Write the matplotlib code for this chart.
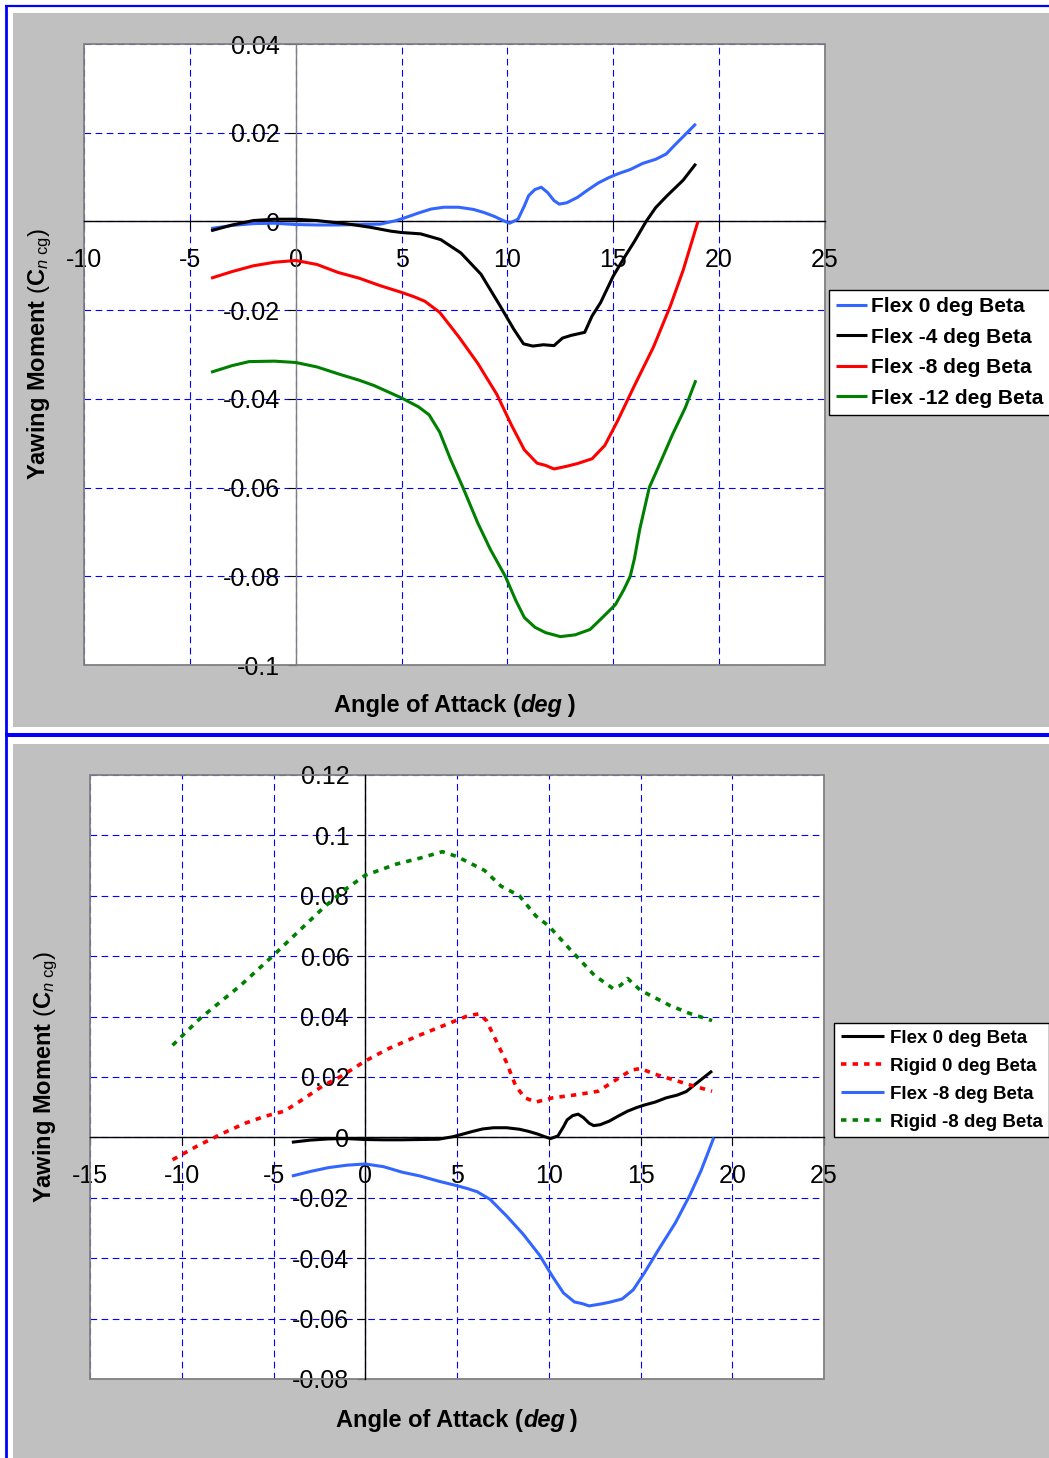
import matplotlib
matplotlib.use("Agg")
import matplotlib.pyplot as plt
from matplotlib.patches import Rectangle
from matplotlib.lines import Line2D
from matplotlib.offsetbox import TextArea, HPacker, AnchoredOffsetbox

plt.rcParams['font.family'] = 'Liberation Sans'
plt.rcParams['mathtext.fontset'] = 'custom'
plt.rcParams['mathtext.rm'] = 'Liberation Sans'
plt.rcParams['mathtext.it'] = 'Liberation Sans:italic'
plt.rcParams['mathtext.bf'] = 'Liberation Sans:bold'
plt.rcParams['lines.solid_joinstyle'] = 'round'
plt.rcParams['lines.solid_capstyle'] = 'butt'

# ---- data ----
aoa_f0 = [-4.0, -3.0, -2.0, -1.0, 0.0, 1.0, 2.0, 3.0, 4.0, 4.75, 5.2, 5.8, 6.4, 7.0, 7.7, 8.4,
          8.9, 9.4, 9.75, 10.1, 10.5, 10.8, 11.0, 11.3, 11.6, 11.9, 12.2, 12.45, 12.8, 13.3,
          13.8, 14.3, 14.8, 15.2, 15.8, 16.4, 17.0, 17.5, 17.9, 18.4, 18.9]
cn_f0 = [-0.0016, -0.0009, -0.0005, -0.0004, -0.0007, -0.0008, -0.0008, -0.0007, -0.0006, 0.0002,
         0.0009, 0.0019, 0.0028, 0.0032, 0.0032, 0.0027, 0.002, 0.0011, 0.0003, -0.0004, 0.0005,
         0.0035, 0.0058, 0.0072, 0.0077, 0.0065, 0.0047, 0.0039, 0.0042, 0.0054, 0.0071, 0.0087,
         0.0099, 0.0107, 0.0117, 0.0131, 0.014, 0.0152, 0.0172, 0.0196, 0.022]

aoa_f4 = [-4.0, -3.0, -2.0, -1.0, 0.0, 1.0, 2.5, 3.5, 4.5, 5.0, 5.9, 6.85, 7.8, 8.75, 9.65, 10.3,
          10.76, 11.2, 11.7, 12.2, 12.6, 13.0, 13.65, 14.0, 14.4, 15.0, 15.5, 16.0, 16.55, 17.0,
          17.5, 18.3, 18.9]
cn_f4 = [-0.0021, -0.0008, 0.0002, 0.0005, 0.0005, 0.0002, -0.0006, -0.0013, -0.0022, -0.0025,
         -0.0028, -0.0041, -0.0071, -0.0119, -0.019, -0.0243, -0.0276, -0.0281, -0.0278, -0.028,
         -0.0263, -0.0257, -0.025, -0.0213, -0.0183, -0.0123, -0.0083, -0.0045, 0.0, 0.0031,
         0.0056, 0.0093, 0.013]

aoa_f8 = [-4.0, -3.0, -2.0, -1.0, 0.0, 1.0, 2.0, 3.0, 4.0, 5.0, 5.6, 6.1, 6.8, 7.7, 8.6, 9.5,
          10.2, 10.8, 11.4, 11.8, 12.2, 12.8, 13.3, 14.0, 14.6, 15.2, 16.0, 16.9, 17.7, 18.3, 19.0]
cn_f8 = [-0.0128, -0.0113, -0.01, -0.0092, -0.0088, -0.0097, -0.0115, -0.0128, -0.0145, -0.016,
         -0.017, -0.018, -0.0205, -0.026, -0.032, -0.039, -0.046, -0.0515, -0.0545, -0.055,
         -0.0558, -0.0552, -0.0546, -0.0535, -0.0505, -0.045, -0.037, -0.0283, -0.019, -0.011, 0.0]

aoa_f12 = [-4.0, -3.0, -2.2, -1.0, 0.0, 1.0, 2.1, 3.0, 3.7, 4.4, 5.0, 5.8, 6.3, 6.8, 7.3, 7.9,
           8.6, 9.2, 9.9, 10.4, 10.8, 11.3, 11.8, 12.5, 13.2, 13.9, 14.4, 15.1, 15.5, 15.8, 16.0,
           16.25, 16.7, 17.3, 17.8, 18.4, 18.9]
cn_f12 = [-0.034, -0.0325, -0.0316, -0.0315, -0.0318, -0.0328, -0.0345, -0.0358, -0.037, -0.0385,
          -0.0398, -0.0418, -0.0436, -0.0475, -0.0535, -0.06, -0.068, -0.074, -0.08, -0.0855,
          -0.0893, -0.0915, -0.0927, -0.0936, -0.0932, -0.092, -0.0897, -0.0864, -0.083, -0.08,
          -0.076, -0.0694, -0.06, -0.0535, -0.048, -0.042, -0.0358]

aoa_r0 = [-10.5, -9.2, -7.75, -6.5, -5.46, -4.4, -3.4, -2.33, -1.3, 0.0, 1.2, 2.9, 4.5, 5.6, 6.2,
          6.6, 7.0, 7.7, 8.2, 8.7, 9.3, 10.2, 11.6, 12.7, 13.7, 14.5, 15.0, 15.8, 17.0, 17.9, 18.9]
cn_r0 = [-0.0074, -0.003, 0.0014, 0.0048, 0.007, 0.0087, 0.0126, 0.017, 0.0203, 0.0253, 0.0292,
         0.0337, 0.0376, 0.0403, 0.0409, 0.0387, 0.0337, 0.0248, 0.017, 0.0131, 0.0117, 0.0131,
         0.0142, 0.0153, 0.0192, 0.0223, 0.0228, 0.0209, 0.0187, 0.017, 0.0153]

aoa_r8 = [-10.5, -9.0, -6.8, -5.0, -3.5, -2.2, -1.0, 0.0, 1.7, 3.0, 4.2, 5.0, 6.5, 7.4, 8.4, 9.3,
          10.0, 11.2, 12.5, 13.5, 13.9, 14.3, 15.0, 16.6, 17.7, 18.9]
cn_r8 = [0.0305, 0.0394, 0.0503, 0.0603, 0.069, 0.0765, 0.0825, 0.0868, 0.0905, 0.0925, 0.0946,
         0.093, 0.0884, 0.0832, 0.08, 0.0733, 0.07, 0.062, 0.0536, 0.0493, 0.0503, 0.0526, 0.0487,
         0.0437, 0.041, 0.0387]

x_ticks_top = [-10, -5, 0, 5, 10, 15, 20, 25]
y_ticks_top = [-0.1, -0.08, -0.06, -0.04, -0.02, 0.0, 0.02, 0.04]
x_ticks_bot = [-15, -10, -5, 0, 5, 10, 15, 20, 25]
y_ticks_bot = [-0.08, -0.06, -0.04, -0.02, 0.0, 0.02, 0.04, 0.06, 0.08, 0.1, 0.12]

W, H = 1049, 1458
fig = plt.figure(figsize=(W / 100, H / 100), dpi=100)


def fx(px):
    return px / W


def fy(py):
    return 1 - py / H


# grey panels and blue frame lines
fig.add_artist(Rectangle((fx(13), fy(727)), 1 - fx(13), fy(13) - fy(727),
                         transform=fig.transFigure, fc='#c0c0c0', ec='none', zorder=0))
fig.add_artist(Rectangle((fx(13), 0), 1 - fx(13), fy(744),
                         transform=fig.transFigure, fc='#c0c0c0', ec='none', zorder=0))
fig.add_artist(Line2D([fx(5), 1], [fy(6), fy(6)], transform=fig.transFigure, color='#0000ff', lw=1.6))
fig.add_artist(Line2D([fx(5.5), fx(5.5)], [0, fy(5)], transform=fig.transFigure, color='#0000ff', lw=2.0))
fig.add_artist(Line2D([fx(5), 1], [fy(735), fy(735)], transform=fig.transFigure, color='#0000ff', lw=2.9))


def style_axes(ax, xt, yt, vcol):
    ax.set_xlim(xt[0], xt[-1])
    ax.set_ylim(yt[0], yt[-1])
    ax.set_xticks(xt)
    ax.set_yticks(yt)
    ax.set_xticklabels([f"{v:g}" for v in xt])
    ax.set_yticklabels([f"{round(v, 2):g}" for v in yt])
    ax.spines['top'].set_visible(False)
    ax.spines['right'].set_visible(False)
    ax.spines['left'].set_position(('data', 0))
    ax.spines['bottom'].set_position(('data', 0))
    ax.spines['left'].set_color(vcol)
    ax.spines['bottom'].set_color('black')
    ax.spines['left'].set_linewidth(1.0)
    ax.spines['bottom'].set_linewidth(1.0)
    ax.add_patch(Rectangle((0, 0), 1, 1, transform=ax.transAxes, fill=False,
                           ec='#808080', lw=1.3, clip_on=False, zorder=1.8))
    ax.grid(True, color='#0000ff', linestyle=(0, (6, 4)), lw=0.8)
    ax.tick_params(direction='out', length=5.5, width=0.8, labelsize=18, color='black')
    ax.tick_params(axis='x', pad=13.5)
    ax.tick_params(axis='y', pad=6)


def axis_titles(ax_cx, ax_cy, title_y, ylab_x):
    parts = [TextArea('Angle of Attack (', textprops=dict(fontsize=17, fontweight='bold')),
             TextArea('deg', textprops=dict(fontsize=17, fontweight='bold', style='italic')),
             TextArea('\u2009)', textprops=dict(fontsize=17, fontweight='bold'))]
    box = HPacker(children=parts, align='baseline', pad=0, sep=0)
    anc = AnchoredOffsetbox(loc='center', child=box, pad=0, borderpad=0, frameon=False,
                            bbox_to_anchor=(ax_cx, title_y), bbox_transform=fig.transFigure)
    fig.add_artist(anc)
    fig.text(ylab_x, ax_cy, r"Yawing Moment $\mathrm{(}\mathbf{C}_{\mathit{n}\ \mathrm{cg}}\mathrm{)}$",
             rotation=90, ha='center', va='center', fontsize=17, fontweight='bold')


# ---- top chart ----
ax1 = fig.add_axes([fx(84), fy(665), fx(825) - fx(84), fy(44) - fy(665)])
style_axes(ax1, x_ticks_top, y_ticks_top, '#7f7f7f')
ax1.plot(aoa_f0, cn_f0, color='#3366ff', lw=2.2, label='Flex 0 deg Beta', zorder=3)
ax1.plot(aoa_f4, cn_f4, color='black', lw=2.2, label='Flex -4 deg Beta', zorder=3)
ax1.plot(aoa_f8, cn_f8, color='#ff0000', lw=2.2, label='Flex -8 deg Beta', zorder=3)
ax1.plot(aoa_f12, cn_f12, color='#008000', lw=2.2, label='Flex -12 deg Beta', zorder=3)
leg1 = ax1.legend(loc='upper left', bbox_to_anchor=(fx(829), fy(290)), bbox_transform=fig.transFigure,
                  prop=dict(weight='bold', size=15), fancybox=False, edgecolor='black', framealpha=1,
                  borderpad=0.35, handlelength=1.45, handletextpad=0.2, labelspacing=0.55, borderaxespad=0)
leg1.get_frame().set_linewidth(1.0)
axis_titles(fx(454.5), fy(354.5), fy(705), fx(40))

# ---- bottom chart ----
ax2 = fig.add_axes([fx(90), fy(1379), fx(824) - fx(90), fy(775) - fy(1379)])
style_axes(ax2, x_ticks_bot, y_ticks_bot, 'black')
ax2.plot(aoa_f0, cn_f0, color='black', lw=2.2, label='Flex 0 deg Beta', zorder=3)
ax2.plot(aoa_r0, cn_r0, color='#ff0000', lw=2.6, linestyle=(0, (1.5, 1.7)), label='Rigid 0 deg Beta', zorder=3)
ax2.plot(aoa_f8, cn_f8, color='#3366ff', lw=2.2, label='Flex -8 deg Beta', zorder=3)
ax2.plot(aoa_r8, cn_r8, color='#008000', lw=2.6, linestyle=(0, (1.5, 1.7)), label='Rigid -8 deg Beta', zorder=3)
leg2 = ax2.legend(loc='upper left', bbox_to_anchor=(fx(834), fy(1023)), bbox_transform=fig.transFigure,
                  prop=dict(weight='bold', size=13.5), fancybox=False, edgecolor='black', framealpha=1,
                  borderpad=0.35, handlelength=2.3, handletextpad=0.32, labelspacing=0.58, borderaxespad=0)
leg2.get_frame().set_linewidth(1.0)
axis_titles(fx(457), fy(1077), fy(1421), fx(46))

fig.savefig('out.png', dpi=100, facecolor='white')
